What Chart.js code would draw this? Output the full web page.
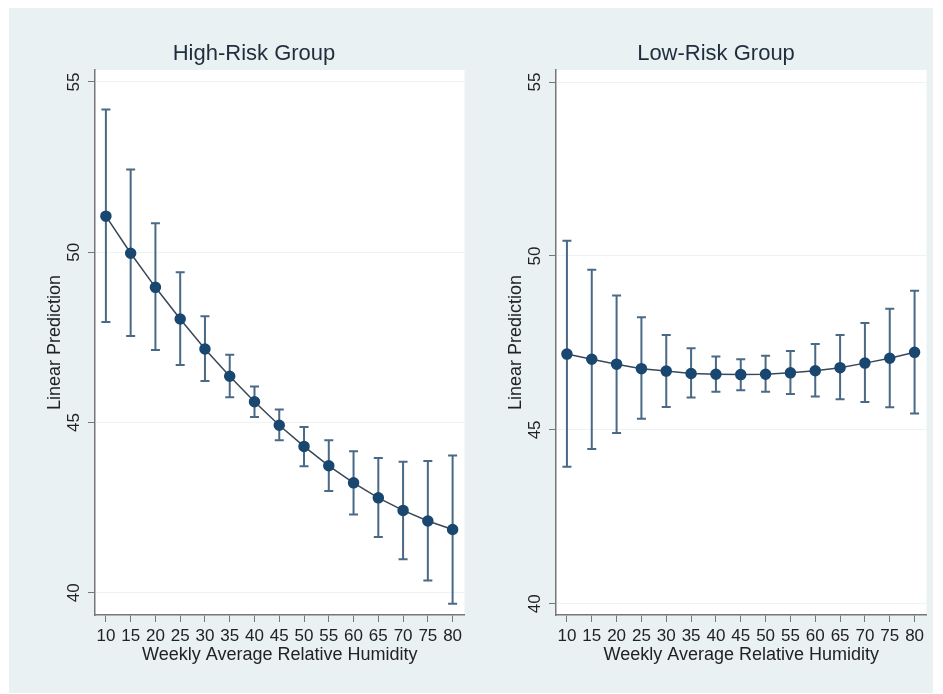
<!DOCTYPE html>
<html>
<head>
<meta charset="utf-8">
<script src="https://cdn.jsdelivr.net/npm/chart.js@4.4.1/dist/chart.umd.min.js"></script>
<style>
  html, body { margin: 0; padding: 0; background: #ffffff; }
  #bg { position: absolute; left: 9px; top: 8px; width: 924px; height: 685px; background: #eaf1f3; }
  canvas { position: absolute; top: 8px; }
</style>
</head>
<body>
<div id="bg"></div>
<canvas id="highChart" width="462" height="685" style="left:9px"></canvas>
<canvas id="lowChart" width="462" height="685" style="left:471px"></canvas>

<script>
// Predicted values (margins) with 95% CI, by weekly average relative humidity
var humidity = [10, 15, 20, 25, 30, 35, 40, 45, 50, 55, 60, 65, 70, 75, 80];

var highPred = [51.06, 49.97, 48.97, 48.04, 47.16, 46.36, 45.61, 44.92, 44.30, 43.73, 43.23, 42.79, 42.42, 42.11, 41.86];
var highLo   = [47.95, 47.54, 47.13, 46.69, 46.22, 45.74, 45.16, 44.48, 43.72, 42.99, 42.30, 41.64, 40.99, 40.36, 39.68];
var highHi   = [54.19, 52.43, 50.85, 49.41, 48.12, 46.99, 46.06, 45.38, 44.87, 44.48, 44.16, 43.96, 43.85, 43.87, 44.03];

var lowPred  = [47.18, 47.03, 46.89, 46.76, 46.69, 46.62, 46.60, 46.59, 46.60, 46.64, 46.70, 46.79, 46.92, 47.06, 47.23];
var lowLo    = [43.94, 44.45, 44.91, 45.32, 45.66, 45.93, 46.10, 46.14, 46.10, 46.03, 45.96, 45.88, 45.80, 45.65, 45.47];
var lowHi    = [50.44, 49.60, 48.86, 48.24, 47.73, 47.35, 47.11, 47.03, 47.13, 47.27, 47.47, 47.73, 48.07, 48.48, 49.00];

var xTicks = [10, 15, 20, 25, 30, 35, 40, 45, 50, 55, 60, 65, 70, 75, 80];
var yTicks = [40, 45, 50, 55];

var FONT = '"Liberation Sans", Arial, sans-serif';

// white plot region, CI bars, rotated y labels and titles (Stata look)
var panelDecor = {
  id: 'panelDecor',
  beforeDraw: function(chart) {
    var a = chart.chartArea, ctx = chart.ctx;
    ctx.save();
    ctx.fillStyle = '#ffffff';
    ctx.fillRect(a.left, a.top, a.right - a.left, a.bottom - a.top);
    ctx.restore();
  },
  beforeDatasetsDraw: function(chart, args, opts) {
    var ctx = chart.ctx, xs = chart.scales.x, ys = chart.scales.y;
    ctx.save();
    ctx.strokeStyle = '#4a6986';
    ctx.lineWidth = 2;
    opts.lo.forEach(function(lo, i) {
      var x = xs.getPixelForValue(humidity[i]);
      var y1 = ys.getPixelForValue(opts.hi[i]);
      var y2 = ys.getPixelForValue(lo);
      ctx.beginPath();
      ctx.moveTo(x, y1); ctx.lineTo(x, y2);
      ctx.moveTo(x - 4.5, y1); ctx.lineTo(x + 4.5, y1);
      ctx.moveTo(x - 4.5, y2); ctx.lineTo(x + 4.5, y2);
      ctx.stroke();
    });
    ctx.restore();
  },
  afterDraw: function(chart, args, opts) {
    var ctx = chart.ctx, a = chart.chartArea, ys = chart.scales.y;
    ctx.save();
    ctx.fillStyle = '#222222';
    ctx.textAlign = 'center';
    ctx.textBaseline = 'middle';

    // y tick labels, rotated
    ctx.font = '17px ' + FONT;
    yTicks.forEach(function(v) {
      ctx.save();
      ctx.translate(a.left - 21, ys.getPixelForValue(v));
      ctx.rotate(-Math.PI / 2);
      ctx.fillText(String(v), 0, 0);
      ctx.restore();
    });

    // y axis title
    ctx.font = '18px ' + FONT;
    ctx.save();
    ctx.translate(a.left - 40, (a.top + a.bottom) / 2);
    ctx.rotate(-Math.PI / 2);
    ctx.fillText('Linear Prediction', 0, 0);
    ctx.restore();

    // x axis title
    ctx.fillText('Weekly Average Relative Humidity', (a.left + a.right) / 2, 647);

    // panel title
    ctx.fillStyle = '#1f2d3d';
    ctx.font = '22px ' + FONT;
    ctx.fillText(opts.title, opts.titleX, 46);
    ctx.restore();
  }
};

function makePanel(canvasId, title, titleX, pred, lo, hi, yMin, yMax, axisW) {
  return new Chart(document.getElementById(canvasId).getContext('2d'), {
    type: 'line',
    data: {
      datasets: [{
        data: humidity.map(function(h, i) { return { x: h, y: pred[i] }; }),
        borderColor: '#384858',
        borderWidth: 1.5,
        pointBackgroundColor: '#1a476f',
        pointBorderColor: '#1a476f',
        pointRadius: 5,
        tension: 0,
        fill: false
      }]
    },
    options: {
      responsive: false,
      animation: false,
      layout: { padding: { top: 62, right: 4, left: 0, bottom: 0 } },
      plugins: {
        legend: { display: false },
        tooltip: { enabled: false },
        panelDecor: { title: title, titleX: titleX, lo: lo, hi: hi }
      },
      scales: {
        x: {
          type: 'linear',
          min: 7.8,
          max: 82.4,
          afterBuildTicks: function(s) { s.ticks = xTicks.map(function(v) { return { value: v }; }); },
          afterFit: function(s) { s.height = 78; s.paddingLeft = 0; s.paddingRight = 0; },
          grid: { drawOnChartArea: false, drawTicks: true, tickLength: 7, tickColor: '#777777' },
          border: { display: true, color: '#777777', width: 1.5 },
          ticks: { autoSkip: false, maxRotation: 0, padding: 4, color: '#222222', font: { family: FONT, size: 17 } }
        },
        y: {
          type: 'linear',
          min: yMin,
          max: yMax,
          afterBuildTicks: function(s) { s.ticks = yTicks.map(function(v) { return { value: v }; }); },
          afterFit: function(s) { s.width = axisW; },
          grid: { color: '#edf2f3', lineWidth: 1, drawTicks: true, tickLength: 7, tickColor: '#777777' },
          border: { display: true, color: '#777777', width: 1.5 },
          ticks: { display: false }
        }
      }
    },
    plugins: [panelDecor]
  });
}

makePanel('highChart', 'High-Risk Group', 245, highPred, highLo, highHi, 39.35, 55.35, 86);
makePanel('lowChart',  'Low-Risk Group',  245, lowPred,  lowLo,  lowHi,  39.68, 55.345, 85);
</script>
</body>
</html>
